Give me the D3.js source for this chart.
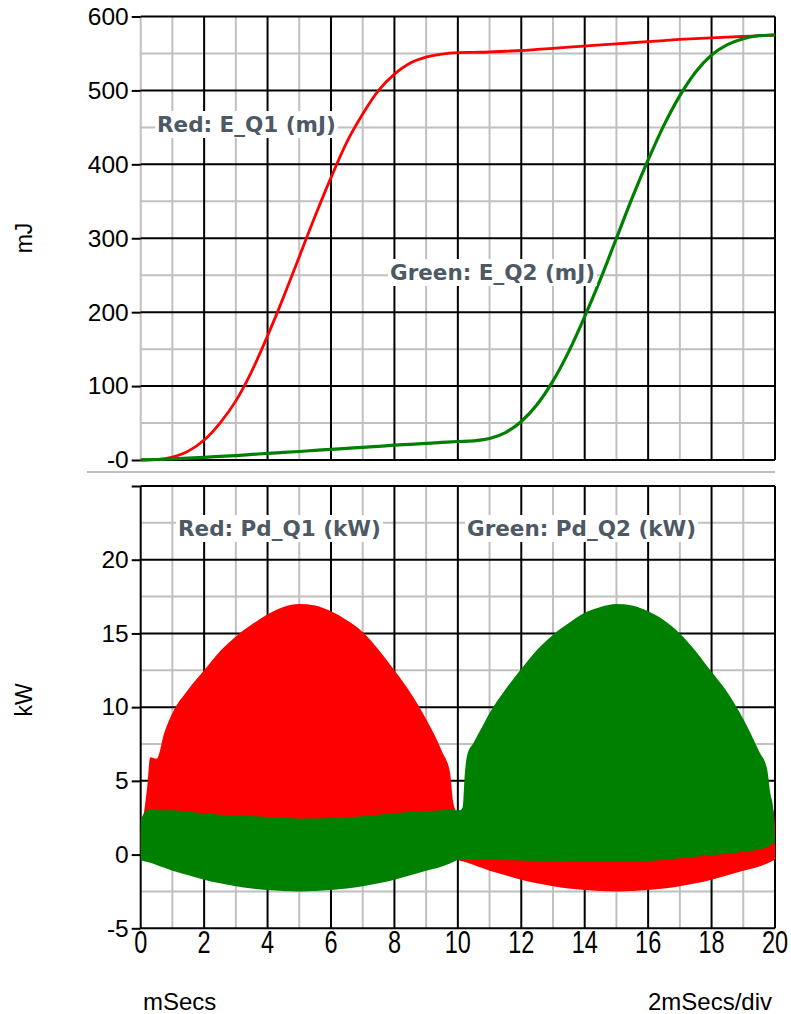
<!DOCTYPE html>
<html>
<head>
<meta charset="utf-8">
<script src="https://cdn.jsdelivr.net/npm/d3@7"></script>
<style>
  html, body { margin: 0; padding: 0; background: #fff; }
  svg { display: block; }
  text { font-family: "Liberation Sans", Arial, sans-serif; }
</style>
</head>
<body>
<svg id="chart" width="791" height="1014"></svg>
<script>
// ---- Energy traces (mJ), sampled every 0.5 ms ----
const energyTime = d3.range(0, 20.001, 0.5);
const energyQ1 = [0, 0.5, 4, 12, 27, 50, 80, 120, 168, 220, 275, 330, 382, 430, 468, 500, 522, 537, 545, 549, 551,
                  551.5, 552, 553, 554, 555.5, 557, 558.5, 560, 561.5, 563, 564.5, 566, 567.5, 569, 570, 571, 572, 573, 574, 575];
const energyQ2 = [0, 0.7, 1.5, 2.5, 3.6, 4.8, 6, 7.5, 9, 10.2, 11.5, 13, 14.5, 15.8, 17, 18.5, 20, 21.2, 22.5, 23.8, 25,
                  26, 29, 37, 52, 75, 107, 147, 194, 245, 300, 355, 406, 453, 493, 525, 548, 562, 570, 574, 575];

// ---- Dissipated power (kW): envelope of the switching waveform ----
const powerTime = [0, 0.1, 0.2, 0.3, 0.5, 0.75, 1, 1.5, 2, 2.5, 3, 3.5, 4, 4.5, 5, 5.5, 6, 6.5, 7, 7.5, 8, 8.5, 9, 9.5,
                   9.75, 9.85, 9.95, 10, 10.05, 10.15, 10.22, 10.3, 10.5, 10.75, 11, 11.5, 12, 12.5, 13, 13.5, 14, 14.5,
                   15, 15.5, 16, 16.5, 17, 17.5, 18, 18.5, 19, 19.5, 19.75, 19.85, 19.95, 20];
const powerQ1High = [1.5, 2.8, 4.5, 6.6, 6.5, 8.3, 9.6, 11.2, 12.5, 13.8, 14.8, 15.6, 16.3, 16.8, 17.0, 16.9, 16.5, 15.9, 15.1, 13.9, 12.5, 11.0, 9.2, 7.0,
                     5.6, 3.6, 2.8, 2.2, 2.4, 2.8, 2.9, 3.0, 3.0, 3.0, 2.95, 2.9, 2.8, 2.7, 2.65, 2.6, 2.55, 2.5,
                     2.5, 2.5, 2.55, 2.6, 2.65, 2.7, 2.8, 2.9, 3.0, 3.1, 3.2, 3.3, 3.0, 2.0];
const powerQ1Low  = [0, -0.2, -0.3, -0.3, -0.3, -0.3, -0.3, -0.3, -0.3, -0.3, -0.3, -0.3, -0.3, -0.3, -0.3, -0.3, -0.3, -0.3, -0.3, -0.3, -0.3, -0.3, -0.3, -0.3,
                     -0.3, -0.3, -0.3, -0.35, -0.4, -0.45, -0.5, -0.55, -0.7, -0.9, -1.1, -1.4, -1.7, -1.95, -2.15, -2.3, -2.4, -2.47,
                     -2.5, -2.47, -2.4, -2.3, -2.15, -1.95, -1.7, -1.4, -1.1, -0.8, -0.6, -0.5, -0.4, -0.35];
const powerQ2High = [2.3, 2.8, 3.0, 3.1, 3.05, 3.0, 3.0, 2.9, 2.8, 2.7, 2.65, 2.6, 2.55, 2.5, 2.45, 2.45, 2.5, 2.55, 2.6, 2.7, 2.8, 2.9, 2.95, 3.0,
                     3.05, 3.05, 3.0, 3.0, 3.0, 3.2, 5.5, 6.8, 7.6, 8.6, 9.6, 11.2, 12.6, 13.9, 14.9, 15.7, 16.4, 16.8,
                     17.0, 16.9, 16.5, 15.9, 15.0, 13.8, 12.4, 11.0, 9.2, 7.0, 5.8, 4.2, 3.0, 0.5];
const powerQ2Low  = [-0.4, -0.45, -0.5, -0.55, -0.7, -0.9, -1.1, -1.4, -1.7, -1.95, -2.15, -2.3, -2.4, -2.47, -2.5, -2.47, -2.4, -2.3, -2.15, -1.95, -1.7, -1.4, -1.1, -0.8,
                     -0.6, -0.5, -0.4, -0.35, -0.3, -0.3, -0.3, -0.3, -0.3, -0.32, -0.35, -0.38, -0.4, -0.43, -0.45, -0.48, -0.5, -0.5,
                     -0.5, -0.48, -0.45, -0.35, -0.25, -0.15, -0.05, 0.05, 0.2, 0.35, 0.5, 0.6, 0.8, 0.9];

// ---- Axis ticks and captions ----
const timeTicks = d3.range(0, 21, 2);
const energyTicks = [0, 100, 200, 300, 400, 500, 600];
const energyTickLabels = ["-0", "100", "200", "300", "400", "500", "600"];
const powerTicks = [-5, 0, 5, 10, 15, 20];
const traceLabels = ["Red: E_Q1 (mJ)", "Green: E_Q2 (mJ)", "Red: Pd_Q1 (kW)", "Green: Pd_Q2 (kW)"];

const RED = "#ff0000", GREEN = "#008000";
const GRID_MAJOR = "#000000", GRID_MINOR = "#c0c0c0";

const svg = d3.select("#chart");

const x = d3.scaleLinear().domain([0, 20]).range([140.7, 775]);
const yE = d3.scaleLinear().domain([0, 600]).range([460, 16.5]);
const yP = d3.scaleLinear().domain([-5, 25]).range([928.3, 486]);

// Grid for one panel: minor lines first, major lines on top.
function drawGrid(g, y, yMinorVals, yMajorVals, leftColor) {
  const [y0, y1] = y.range();
  const [x0, x1] = x.range();
  const xMinor = d3.range(1, 20, 2);
  const xMajor = d3.range(2, 21, 2);
  g.selectAll(".hmin").data(yMinorVals).join("line")
    .attr("x1", x0).attr("x2", x1).attr("y1", d => y(d)).attr("y2", d => y(d))
    .attr("stroke", GRID_MINOR).attr("stroke-width", 2);
  g.selectAll(".vmin").data(xMinor).join("line").attr("class", "vmin")
    .attr("x1", d => x(d)).attr("x2", d => x(d)).attr("y1", y0).attr("y2", y1)
    .attr("stroke", GRID_MINOR).attr("stroke-width", 2);
  g.append("line").attr("x1", x0).attr("x2", x0).attr("y1", y0).attr("y2", y1)
    .attr("stroke", leftColor).attr("stroke-width", 2);
  g.selectAll(".hmaj").data(yMajorVals).join("line").attr("class", "hmaj")
    .attr("x1", x0).attr("x2", x1).attr("y1", d => y(d)).attr("y2", d => y(d))
    .attr("stroke", GRID_MAJOR).attr("stroke-width", 2);
  g.selectAll(".vmaj").data(xMajor).join("line").attr("class", "vmaj")
    .attr("x1", d => x(d)).attr("x2", d => x(d)).attr("y1", y0).attr("y2", y1)
    .attr("stroke", GRID_MAJOR).attr("stroke-width", 2);
}

// ---- Energy panel ----
const gTop = svg.append("g");
drawGrid(gTop, yE, d3.range(50, 600, 100), energyTicks, GRID_MINOR);

// ---- Power panel ----
const gBot = svg.append("g");
drawGrid(gBot, yP, d3.range(-2.5, 25, 5), [-5, 0, 5, 10, 15, 20, 25], GRID_MAJOR);

// separator between the panels
svg.append("line").attr("x1", 87).attr("x2", 775).attr("y1", 472).attr("y2", 472)
  .attr("stroke", GRID_MINOR).attr("stroke-width", 2);

// y axes with outward ticks
function styleAxis(sel) {
  sel.select(".domain").remove();
  sel.selectAll(".tick line").attr("stroke", "#000").attr("stroke-width", 2);
  sel.selectAll(".tick text").attr("fill", "#000")
    .style("font-family", "'Liberation Sans', Arial, sans-serif").style("font-size", "24.5px");
}
svg.append("g").attr("transform", `translate(${x(0)},0)`)
  .call(d3.axisLeft(yE).tickValues(energyTicks).tickSize(9).tickPadding(3)
    .tickFormat((d, i) => energyTickLabels[i]))
  .call(styleAxis);
svg.append("g").attr("transform", `translate(${x(0)},0)`)
  .call(d3.axisLeft(yP).tickValues(powerTicks.concat([25])).tickSize(9).tickPadding(3)
    .tickFormat(d => d === 25 ? "" : String(d)))
  .call(styleAxis);

// x axis labels (tall numerals)
const xl = svg.append("g");
xl.selectAll("text").data(timeTicks).join("text")
  .attr("transform", d => `translate(${x(d)},953) scale(1,1.32)`)
  .attr("text-anchor", "middle")
  .style("font-size", "23.5px").attr("fill", "#000")
  .text(d => d);

// ---- Energy curves ----
const energyLine = series => d3.line()
  .x((d, i) => x(energyTime[i]))
  .y(d => yE(d))
  .curve(d3.curveMonotoneX)(series);

svg.append("path").attr("d", energyLine(energyQ1))
  .attr("fill", "none").attr("stroke", RED).attr("stroke-width", 2.8);
svg.append("path").attr("d", energyLine(energyQ2))
  .attr("fill", "none").attr("stroke", GREEN).attr("stroke-width", 3.2);

// ---- Power bands ----
const band = (hi, lo) => d3.area()
  .x((d, i) => x(powerTime[i]))
  .y0((d, i) => yP(lo[i]))
  .y1((d, i) => yP(hi[i]))
  .curve(d3.curveMonotoneX)(powerTime);

svg.append("path").attr("d", band(powerQ1High, powerQ1Low)).attr("fill", RED);
svg.append("path").attr("d", band(powerQ2High, powerQ2Low)).attr("fill", GREEN);

// ---- Trace captions on white boxes ----
const captionPos = [[157, 132], [390, 280], [178, 536], [467, 536]];
traceLabels.forEach((t, i) => {
  const g = svg.append("g");
  const txt = g.append("text")
    .attr("x", captionPos[i][0]).attr("y", captionPos[i][1])
    .style("font-family", "'DejaVu Sans', Verdana, sans-serif")
    .style("font-weight", "bold").style("font-size", "21.5px")
    .attr("fill", "#4d5964").text(t);
  const bb = txt.node().getBBox();
  g.insert("rect", "text")
    .attr("x", bb.x - 2).attr("y", bb.y - 1)
    .attr("width", bb.width + 4).attr("height", bb.height + 2)
    .attr("fill", "#fff");
});

// ---- Axis titles ----
svg.append("text").attr("transform", "translate(32,238) rotate(-90)")
  .attr("text-anchor", "middle").style("font-size", "23px").text("mJ");
svg.append("text").attr("transform", "translate(32,700) rotate(-90)")
  .attr("text-anchor", "middle").style("font-size", "23px").text("kW");
svg.append("text").attr("x", 143).attr("y", 1010)
  .style("font-size", "24px").text("mSecs");
svg.append("text").attr("x", 772).attr("y", 1010).attr("text-anchor", "end")
  .style("font-size", "24px").text("2mSecs/div");
</script>
</body>
</html>
